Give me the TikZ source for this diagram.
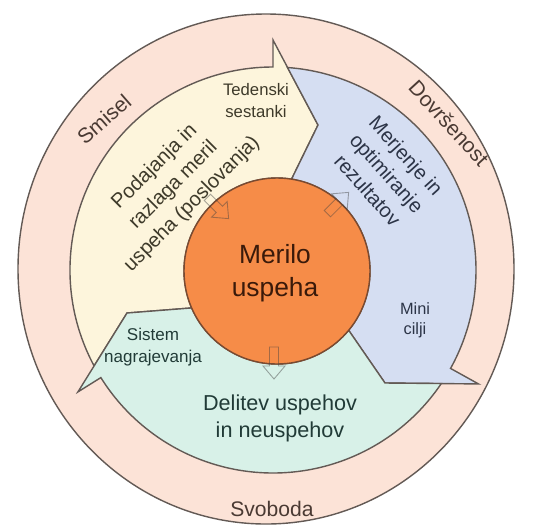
\documentclass[tikz,border=0pt]{standalone}
\usepackage{fontspec}
\setmainfont{Liberation Sans}
\usetikzlibrary{calc}

\definecolor{ringpink}{HTML}{FCE3D7}
\definecolor{cream}{HTML}{FDF5DC}
\definecolor{paleblue}{HTML}{D5DEF2}
\definecolor{mint}{HTML}{D8F1E8}
\definecolor{hubfill}{HTML}{F68C48}
\definecolor{edge}{HTML}{635A55}
\definecolor{hubedge}{HTML}{7A4A30}
\definecolor{ringink}{HTML}{4A3A33}
\definecolor{creamink}{HTML}{3E3A2A}
\definecolor{blueink}{HTML}{2C3447}
\definecolor{greenink}{HTML}{213B37}
\definecolor{hubink}{HTML}{3A1A0A}

\tikzset{
  band/.style={draw=edge, line width=0.8pt, line join=miter},
  cue/.style={draw=black!75, line width=0.5pt, opacity=0.45},
  lbl/.style={inner sep=0pt, align=center},
}

\begin{document}
\begin{tikzpicture}[x=0.02cm, y=0.02cm]
    \useasboundingbox (0,0) rectangle (533,529);

    \coordinate (O) at (266,260);
    \coordinate (I) at (273,259);
    \coordinate (C) at (277,258);

    \draw[band, fill=ringpink] (O) ellipse [x radius=248, y radius=255];

    % three arrows of the cycle
    \coordinate (yTip) at ([shift={(I)}]90:230);
    \coordinate (yPt) at (318,404);
    \coordinate (bTip) at ([shift={(I)}]-29:235);
    \coordinate (bPt) at (385,146);
    \coordinate (gTip) at ([shift={(I)}]-148:230);
    \coordinate (gPt) at (127,216);

    \draw[band, fill=cream] ([shift={(I)}]208.2:203)
        arc[start angle=208.2, end angle=90, radius=203]
        -- (yTip) -- (yPt) -- ([shift={(C)}]81:93)
        arc[start angle=81, end angle=203.4, radius=93]
        -- (gPt) -- cycle;

    \draw[band, fill=paleblue] ([shift={(I)}]85.9:203)
        arc[start angle=85.9, end angle=-29, radius=203]
        -- (bTip) -- (bPt) -- ([shift={(C)}]-39.6:93)
        arc[start angle=-39.6, end angle=81, radius=93]
        -- (yPt) -- cycle;

    \draw[band, fill=mint] ([shift={(I)}]-34:203)
        arc[start angle=-34, end angle=-148, radius=203]
        -- (gTip) -- (gPt) -- ([shift={(C)}]203.4:93)
        arc[start angle=203.4, end angle=320.4, radius=93]
        -- (bPt) -- cycle;

    \draw[draw=hubedge, line width=0.8pt, fill=hubfill] (C) circle [radius=93];

    % faint cues at the hub
    \draw[cue, shift={(218,321)}, rotate=-45]
        (-15,-4.5) -- (2,-4.5) -- (2,-11) -- (15,0) -- (2,11) -- (2,4.5) -- (-15,4.5) -- cycle;
    \draw[cue, shift={(338,326)}, rotate=45]
        (-15,-4.5) -- (2,-4.5) -- (2,-11) -- (15,0) -- (2,11) -- (2,4.5) -- (-15,4.5) -- cycle;
    \draw[cue, shift={(274,166)}, rotate=-90]
        (-16,-4.5) -- (3,-4.5) -- (3,-11) -- (16,0) -- (3,11) -- (3,4.5) -- (-16,4.5) -- cycle;

    \node[lbl, text=hubink, font=\fontsize{15}{19}\selectfont] (hubtxt) at (275,256) {Merilo\\uspeha};

    \node[lbl, text=creamink, rotate=45, font=\fontsize{11.5}{15}\selectfont] (split) at (173.5,343.6)
        {Podajanja in\\razlaga meril\\uspeha (poslovanja)};
    \node[lbl, text=creamink, font=\fontsize{9.5}{12.5}\selectfont] (weekly) at (256,428) {Tedenski\\sestanki};

    \node[lbl, text=blueink, rotate=-48, font=\fontsize{11.5}{14.7}\selectfont] (measure) at (387,356)
        {Merjenje in\\optimiranje\\rezultatov};
    \node[lbl, text=blueink, font=\fontsize{9.3}{11.3}\selectfont] (goals) at (415,209) {Mini\\cilji};

    \node[lbl, text=greenink, font=\fontsize{12.3}{15.3}\selectfont] (share) at (280,111)
        {Delitev uspehov\\in neuspehov};
    \node[lbl, text=greenink, font=\fontsize{9.7}{12.5}\selectfont] (reward) at (153,182) {Sistem\\nagrajevanja};

    \node[lbl, text=ringink, rotate=41, font=\fontsize{12}{14}\selectfont] (sense) at (104,410) {Smisel};
    \node[lbl, text=ringink, rotate=-47.5, font=\fontsize{12}{14}\selectfont] (done) at (449,406) {Dovršenost};
    \node[lbl, text=ringink, font=\fontsize{12}{14}\selectfont] (free) at (272,20) {Svoboda};

\end{tikzpicture}
\end{document}
